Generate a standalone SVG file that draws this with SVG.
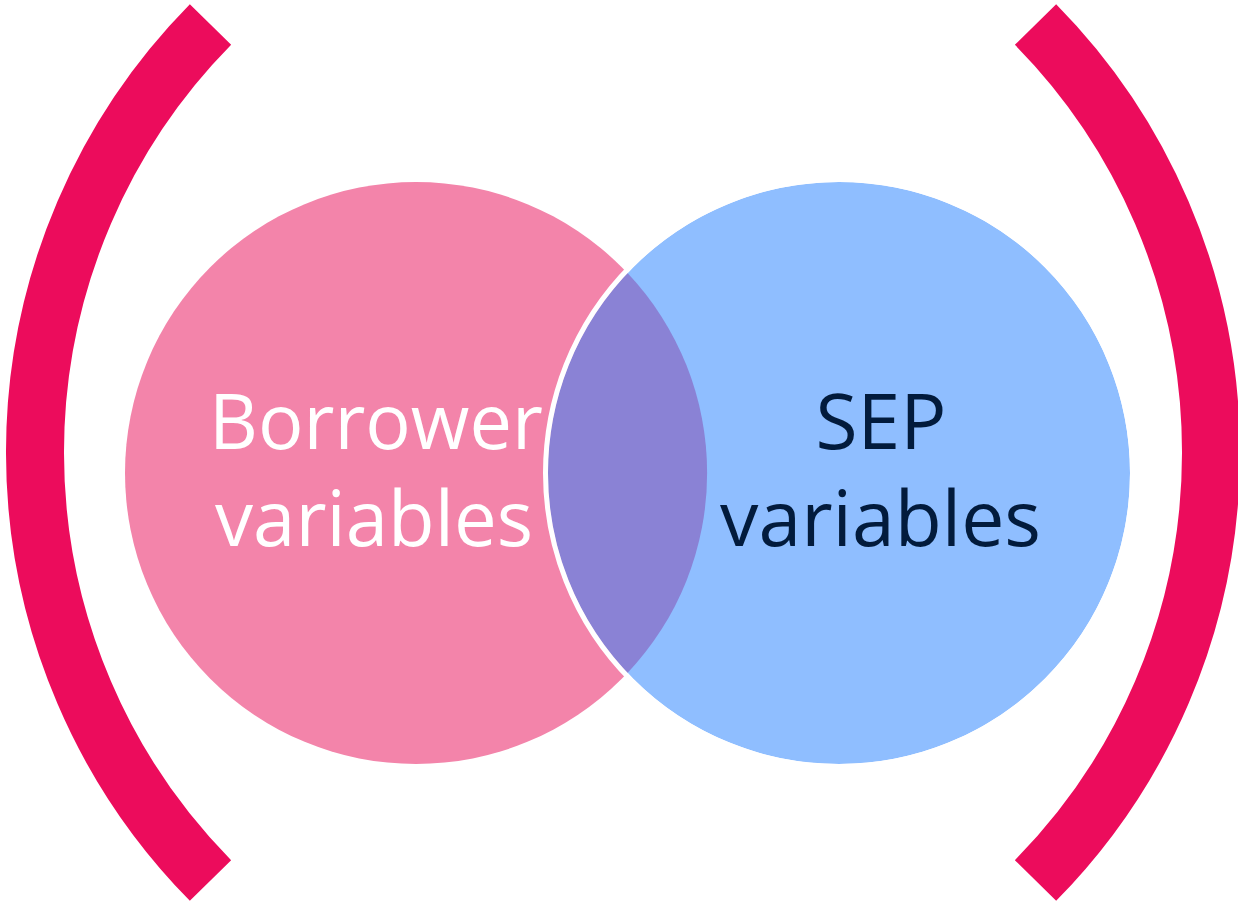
<svg xmlns="http://www.w3.org/2000/svg" width="1238" height="901" viewBox="0 0 1238 901">
  <style>
    .bracket { fill: none; stroke: #EC0C5C; stroke-width: 58; stroke-linecap: butt; }
    .label { font-family: "Open Sans", "Noto Sans", "Liberation Sans", sans-serif; font-size: 76px; text-anchor: middle; }
    .light { fill: #FFFFFF; }
    .dark { fill: #021B3C; }
  </style>
  <rect width="1238" height="901" fill="#FFFFFF"/>

  <!-- enclosing parentheses -->
  <g id="bracket-left">
    <path class="bracket" d="M 210.5 24.5 A 609.6 609.6 0 0 0 210.5 880.5"/>
  </g>
  <g id="bracket-right">
    <path class="bracket" d="M 1035.5 24.5 A 609.6 609.6 0 0 1 1035.5 880.5"/>
  </g>

  <!-- Venn sets -->
  <g id="set-borrower">
    <circle cx="416" cy="473" r="291" fill="#F384AA"/>
  </g>
  <g id="set-sep">
    <circle cx="839" cy="473" r="291" fill="#8FBEFF"/>
  </g>
  <g id="overlap">
    <path d="M 627.5 273 A 291 291 0 0 1 627.5 673 A 291 291 0 0 1 627.5 273 Z" fill="#8A82D5"/>
    <circle cx="839" cy="473" r="293.5" fill="none" stroke="#FFFFFF" stroke-width="5"/>
  </g>

  <!-- labels -->
  <g id="label-borrower">
    <text class="label light" x="376" y="449" textLength="334" lengthAdjust="spacingAndGlyphs">Borrower</text>
    <text class="label light" x="374" y="546" textLength="318" lengthAdjust="spacingAndGlyphs">variables</text>
  </g>
  <g id="label-sep">
    <text class="label dark" x="881" y="449" textLength="131" lengthAdjust="spacingAndGlyphs">SEP</text>
    <text class="label dark" x="880.5" y="546" textLength="321" lengthAdjust="spacingAndGlyphs">variables</text>
  </g>

  <g id="connectors"/>
</svg>
